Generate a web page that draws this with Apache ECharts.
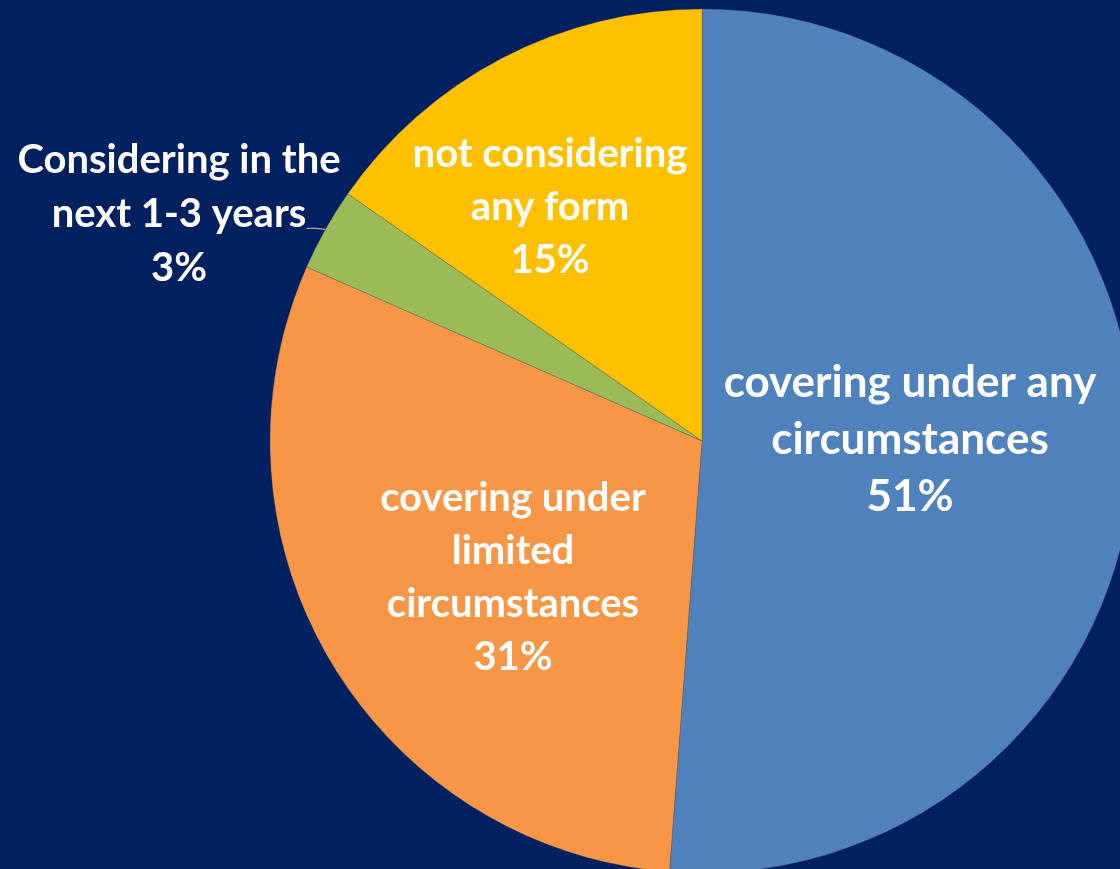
<!DOCTYPE html>
<html>
<head>
<meta charset="utf-8">
<script src="https://cdn.jsdelivr.net/npm/echarts@6/dist/echarts.min.js"></script>
<style>
html,body{margin:0;padding:0;background:#002060;}
#chart{width:1120px;height:869px;}
</style>
</head>
<body>
<div id="chart"></div>
<script>
// Data
const categories = [
  'covering under any\ncircumstances',
  'covering under\nlimited\ncircumstances',
  'Considering in the\nnext 1-3 years',
  'not considering\nany form'
];
// slice sizes
const values = [51.2, 30.4, 3.1, 15.3];
// percentages printed on the chart
const percentLabels = ['51%', '31%', '3%', '15%'];
const colors = ['#4F81BD', '#F79646', '#9BBB59', '#FFC000'];

// label anchor points (layout only)
const labelPos = [[910, 440], [513, 578], [179, 214], [550, 207]];
const labelSize = [44, 40, 40, 40];
const labelLH = [57, 53, 54, 53];

const chart = echarts.init(document.getElementById('chart'));
chart.setOption({
  backgroundColor: '#002060',
  animation: false,
  series: [{
    type: 'pie',
    center: [702, 441],
    radius: [0, 432],
    startAngle: 90,
    clockwise: true,
    avoidLabelOverlap: false,
    data: categories.map((name, i) => ({
      name: name,
      value: values[i],
      itemStyle: { color: colors[i] },
      label: {
        position: i === 2 ? 'outside' : 'inside',
        fontSize: labelSize[i],
        lineHeight: labelLH[i]
      },
      labelLine: { show: i === 2 }
    })),
    itemStyle: { borderColor: 'rgba(80,80,80,0.5)', borderWidth: 0.6 },
    label: {
      show: true,
      formatter: function (p) { return p.name + '\n' + percentLabels[p.dataIndex]; },
      color: '#ffffff',
      fontFamily: 'Lato',
      fontWeight: 'bold',
      align: 'center'
    },
    labelLine: {
      show: true,
      length: 10,
      length2: 10,
      lineStyle: { color: '#A6A6A6', width: 1.2 }
    },
    labelLayout: function (p) {
      const pos = labelPos[p.dataIndex];
      const out = { x: pos[0], y: pos[1], align: 'center', verticalAlign: 'middle' };
      if (p.dataIndex === 2 && p.labelLinePoints && p.labelLinePoints.length) {
        const a = p.labelLinePoints[0];
        out.labelLinePoints = [[a[0], a[1]], [a[0] - 9, a[1] - 1], [a[0] - 19, a[1] - 1]];
      }
      return out;
    }
  }]
});
</script>
</body>
</html>
